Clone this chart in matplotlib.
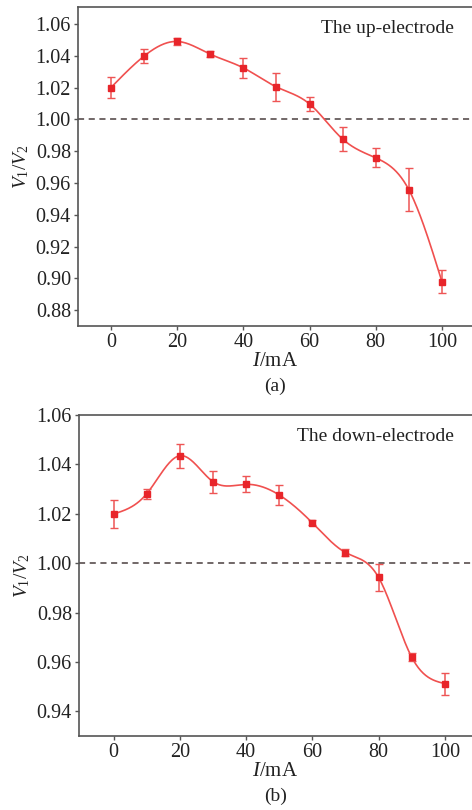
import numpy as np
import matplotlib
matplotlib.use("Agg")
import matplotlib.pyplot as plt

plt.rcParams['font.family'] = ['Liberation Serif', 'DejaVu Serif']
plt.rcParams['mathtext.fontset'] = 'custom'
plt.rcParams['mathtext.rm'] = 'Liberation Serif'
plt.rcParams['mathtext.it'] = 'Liberation Serif:italic'

current = [0, 10, 20, 30, 40, 50, 60, 70, 80, 90, 100]
up_ratio = [1.0200, 1.0398, 1.0490, 1.0410, 1.0324, 1.0204, 1.0097, 0.9876, 0.9758, 0.9558, 0.8980]
up_err = [0.0067, 0.0044, 0.0020, 0.0020, 0.0063, 0.0088, 0.0044, 0.0077, 0.0059, 0.0135, 0.0075]
down_ratio = [1.0199, 1.0281, 1.0435, 1.0330, 1.0319, 1.0276, 1.0163, 1.0043, 0.9942, 0.9619, 0.9512]
down_err = [0.0057, 0.0020, 0.0048, 0.0045, 0.0032, 0.0041, 0.0010, 0.0015, 0.0053, 0.0015, 0.0045]
up_yticks = [0.88, 0.90, 0.92, 0.94, 0.96, 0.98, 1.00, 1.02, 1.04, 1.06]
down_yticks = [0.94, 0.96, 0.98, 1.00, 1.02, 1.04, 1.06]
xticks = [0, 20, 40, 60, 80, 100]


def natural_spline(x, y, n=400):
    x = np.asarray(x, float); y = np.asarray(y, float)
    k = len(x); h = np.diff(x)
    A = np.zeros((k, k)); b = np.zeros(k)
    A[0, 0] = 1; A[-1, -1] = 1
    for i in range(1, k - 1):
        A[i, i - 1] = h[i - 1]; A[i, i] = 2 * (h[i - 1] + h[i]); A[i, i + 1] = h[i]
        b[i] = 3 * ((y[i + 1] - y[i]) / h[i] - (y[i] - y[i - 1]) / h[i - 1])
    c = np.linalg.solve(A, b)
    xs = np.linspace(x[0], x[-1], n)
    idx = np.clip(np.searchsorted(x, xs) - 1, 0, k - 2)
    dx = xs - x[idx]
    bb = (y[1:] - y[:-1]) / h - h * (2 * c[:-1] + c[1:]) / 3
    d = (c[1:] - c[:-1]) / (3 * h)
    ys = y[idx] + bb[idx] * dx + c[idx] * dx ** 2 + d[idx] * dx ** 3
    return xs, ys


fig = plt.figure(figsize=(4.72, 8.10), dpi=100)
line_c = '#f0504f'
mark_c = '#e8252a'
spine_c = '#555555'

panels = [
    dict(rect=[0.165, 0.5975, 0.835, 0.3939], y=up_ratio, e=up_err, yt=up_yticks,
         ylim=(0.870, 1.0707), xlim=(-10, 109.1), txt='The up-electrode', lab='(a)'),
    dict(rect=[0.167, 0.0914, 0.833, 0.3963], y=down_ratio, e=down_err, yt=down_yticks,
         ylim=(0.930, 1.060), xlim=(-10.5, 108.2), txt='The down-electrode', lab='(b)'),
]

for p in panels:
    ax = fig.add_axes(p['rect'])
    xs, ys = natural_spline(current, p['y'])
    ax.axhline(1.0, color='#4a3f3f', lw=1.1, ls=(0, (4, 3)), zorder=1)
    ax.plot(xs, ys, color=line_c, lw=1.2, zorder=2)
    ax.errorbar(current, p['y'], yerr=p['e'], fmt='s', color=mark_c, ms=5,
                ecolor='#ee5555', elinewidth=1.1, capsize=3, capthick=1.0, zorder=3)
    ax.set_xlim(*p['xlim']); ax.set_ylim(*p['ylim'])
    ax.set_xticks(xticks); ax.set_yticks(p['yt'])
    ax.set_yticklabels([f'{v:.2f}' for v in p['yt']])
    ax.tick_params(direction='out', length=3, width=1, color=spine_c, labelsize=14.5, pad=2,
                   labelcolor='#222222')
    ax.spines['right'].set_visible(False)
    for s in ['left', 'bottom', 'top']:
        ax.spines[s].set_color(spine_c); ax.spines[s].set_linewidth(1.2)
    ax.set_xlabel('$I$/mA', fontsize=15, labelpad=0, color='#222222')
    ax.set_ylabel('$V_1/V_2$', fontsize=14, labelpad=3, color='#222222')
    ax.text(0.955, 0.96, p['txt'], transform=ax.transAxes, ha='right', va='top',
            fontsize=14, color='#222222')
    ax.annotate(p['lab'], xy=(0.5, 0), xycoords='axes fraction', xytext=(0, -37),
                textcoords='offset points', ha='center', va='top', fontsize=14, color='#222222')

fig.savefig('out.png', dpi=100)
